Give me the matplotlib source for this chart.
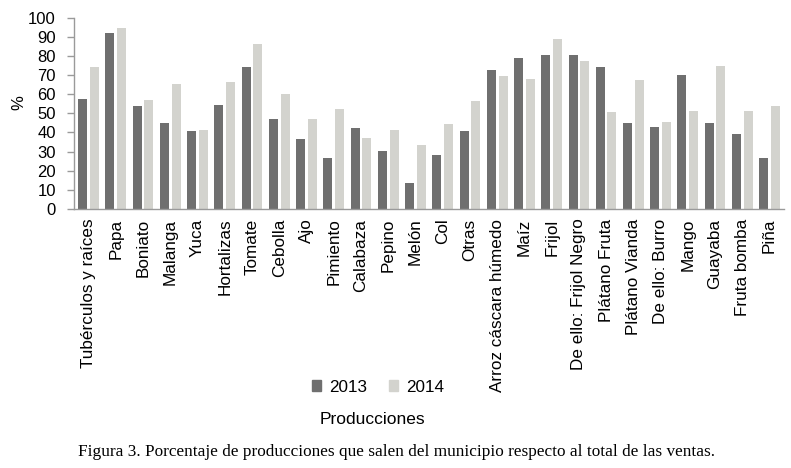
import matplotlib
matplotlib.use("Agg")
import matplotlib.pyplot as plt
import numpy as np
from matplotlib.patches import Patch

categories = ["Tubérculos y raíces", "Papa", "Boniato", "Malanga", "Yuca", "Hortalizas",
              "Tomate", "Cebolla", "Ajo", "Pimiento", "Calabaza", "Pepino", "Melón", "Col",
              "Otras", "Arroz cáscara húmedo", "Maíz", "Frijol", "De ello: Frijol Negro",
              "Plátano Fruta", "Plátano Vianda", "De ello: Burro", "Mango", "Guayaba",
              "Fruta bomba", "Piña"]
values_2013 = [57.6, 92.0, 54.1, 44.7, 41.0, 54.5, 74.0, 46.8, 36.8, 26.4, 42.6, 30.4, 13.6,
               28.4, 41.0, 72.9, 79.1, 80.6, 80.6, 74.2, 44.7, 42.9, 70.3, 45.2, 39.3, 26.5]
values_2014 = [74.2, 94.4, 57.2, 65.1, 41.5, 66.5, 86.2, 60.2, 46.8, 52.5, 37.3, 41.5, 33.2,
               44.2, 56.2, 69.3, 67.7, 88.7, 77.5, 50.8, 67.2, 45.7, 51.0, 74.5, 51.0, 54.1]
series_labels = ["2013", "2014"]
yticks = list(range(0, 101, 10))
ylabel = "%"
xlabel = "Producciones"
caption = "Figura 3. Porcentaje de producciones que salen del municipio respecto al total de las ventas."

c2013 = "#6f6f6f"
c2014 = "#d3d3ce"
spine_c = "#9a9a9a"

plt.rcParams['font.family'] = ['Liberation Sans', 'DejaVu Sans']

W, H = 791, 468
fig = plt.figure(figsize=(W / 100, H / 100), dpi=100)
left, right, top, bottom = 74, 784, 17.7, 209
ax = fig.add_axes([left / W, 1 - bottom / H, (right - left) / W, (bottom - top) / H])

x = np.arange(len(categories))
bw = 0.33
off = 0.215
ax.bar(x - off, values_2013, width=bw, color=c2013, label=series_labels[0])
ax.bar(x + off, values_2014, width=bw, color=c2014, label=series_labels[1])

ax.set_xlim(-0.536, 25.53)
ax.set_ylim(0, 100)
ax.set_yticks(yticks)
ax.set_yticklabels([str(v) for v in yticks], fontsize=12)
ax.set_xticks(x)
ax.set_xticklabels(categories, rotation=90, fontsize=12.3)
ax.tick_params(axis='x', length=0, pad=7)
ax.tick_params(axis='y', length=5, width=1, color=spine_c, pad=8)
for s in ['top', 'right']:
    ax.spines[s].set_visible(False)
for s in ['left', 'bottom']:
    ax.spines[s].set_color(spine_c)
    ax.spines[s].set_linewidth(1)

fig.text(19 / W, 1 - 103 / H, ylabel, rotation=90, fontsize=12, ha='center', va='center')

handles = [Patch(color=c2013), Patch(color=c2014)]
fig.legend(handles, series_labels, loc='center', bbox_to_anchor=(378 / W, 1 - 387 / H),
           ncol=2, frameon=False, fontsize=12.3, handlelength=0.55, handleheight=0.55,
           handletextpad=0.45, columnspacing=1.3)

fig.text(372 / W, 1 - 420 / H, xlabel, fontsize=12.5, ha='center', va='center')
fig.text(396 / W, 1 - 452 / H, caption, fontsize=12.4, ha='center', va='center',
         family=['Liberation Serif', 'DejaVu Serif'])

fig.savefig("out.png", dpi=100)
